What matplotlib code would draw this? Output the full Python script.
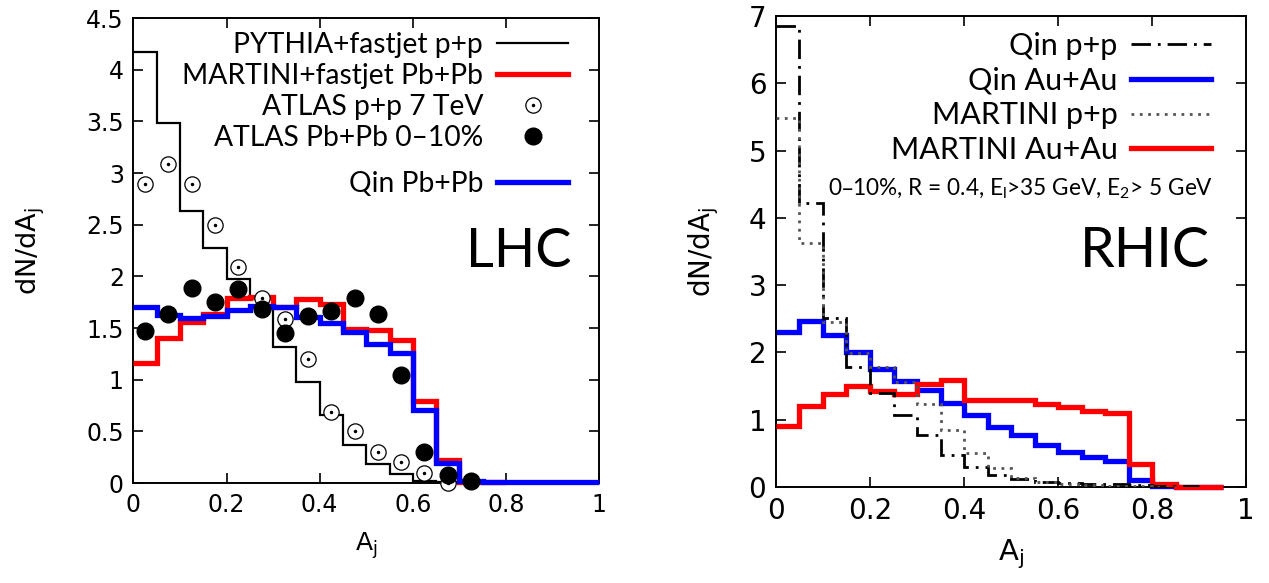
import numpy as np
import matplotlib
matplotlib.use("Agg")
import matplotlib.pyplot as plt
from matplotlib.lines import Line2D
from matplotlib.legend_handler import HandlerTuple

plt.rcParams["mathtext.default"] = "regular"

# ---- LHC panel data (bin width 0.05) ----
lhc_edges = np.arange(0, 1.0001, 0.05)
pythia_pp = [4.17, 3.48, 2.63, 2.27, 1.97, 1.80, 1.32, 0.975, 0.66, 0.37,
             0.18, 0.09, 0.015, 0.005, 0.0, 0.0]
martini_pbpb = [1.16, 1.40, 1.56, 1.64, 1.79, 1.80, 1.70, 1.78, 1.73, 1.49,
                1.48, 1.38, 0.79, 0.22, 0.01, 0.005]
qin_pbpb = [1.70, 1.63, 1.60, 1.62, 1.67, 1.71, 1.70, 1.61, 1.55, 1.46,
            1.35, 1.26, 0.71, 0.19, 0.02, 0.005, 0.005, 0.005, 0.005, 0.005]
atlas_x = [0.025, 0.075, 0.125, 0.175, 0.225, 0.275, 0.325, 0.375, 0.425, 0.475,
           0.525, 0.575, 0.625, 0.675]
atlas_pp = [2.89, 3.09, 2.89, 2.50, 2.09, 1.79, 1.59, 1.20, 0.69, 0.50,
            0.30, 0.20, 0.10, 0.0]
atlas_pbpb_x = [0.025, 0.075, 0.125, 0.175, 0.225, 0.275, 0.325, 0.375, 0.425, 0.475,
                0.525, 0.575, 0.625, 0.675, 0.725]
atlas_pbpb = [1.47, 1.64, 1.89, 1.75, 1.88, 1.68, 1.455, 1.62, 1.66, 1.79,
              1.64, 1.05, 0.30, 0.08, 0.02]

# ---- RHIC panel data ----
rhic_edges = np.arange(0, 0.9501, 0.05)
qin_pp = [6.85, 4.22, 2.51, 1.79, 1.40, 1.07, 0.77, 0.475, 0.29, 0.18,
          0.12, 0.08, 0.06, 0.05, 0.04, 0.03, 0.02, 0.01]
martini_pp = [5.48, 3.62, 2.45, 1.99, 1.79, 1.565, 1.24, 0.85, 0.50, 0.28,
              0.14, 0.08, 0.045, 0.03, 0.02, 0.01, 0.005]
qin_auau = [2.31, 2.46, 2.26, 2.01, 1.76, 1.575, 1.44, 1.25, 1.07, 0.89,
            0.77, 0.63, 0.525, 0.44, 0.39, 0.10, 0.01, 0.0, 0.0]
martini_auau = [0.91, 1.20, 1.38, 1.50, 1.42, 1.38, 1.53, 1.59, 1.30, 1.30,
                1.29, 1.24, 1.19, 1.13, 1.095, 0.34, 0.04, 0.005, 0.005]

lhc_xticks = [0, 0.2, 0.4, 0.6, 0.8, 1]
lhc_xlabels = ["0", "0.2", "0.4", "0.6", "0.8", "1"]
lhc_yticks = [0, 0.5, 1, 1.5, 2, 2.5, 3, 3.5, 4, 4.5]
lhc_ylabels = ["0", "0.5", "1", "1.5", "2", "2.5", "3", "3.5", "4", "4.5"]
rhic_yticks = [0, 1, 2, 3, 4, 5, 6, 7]
rhic_ylabels = ["0", "1", "2", "3", "4", "5", "6", "7"]

legfont = "Lato"
RED = "#ff0000"
BLUE = "#0000ff"
GRAY = "#555555"
DASHDOT = (0, (7, 2.5, 1, 2.5))
DOTS = (0, (1, 2))

fig = plt.figure(figsize=(12.69, 5.83), dpi=100)
ax1 = fig.add_axes([0.1052, 0.1715, 0.3668, 0.7976])
ax2 = fig.add_axes([0.6115, 0.1647, 0.3704, 0.8079])


def style_axis(ax, fs):
    for s in ax.spines.values():
        s.set_linewidth(1.4)
    ax.tick_params(direction="in", top=True, right=True, length=7, width=1.2,
                   labelsize=fs, pad=7)


# left panel
n = len(pythia_pp)
ax1.stairs(pythia_pp, lhc_edges[:n + 1], baseline=None, color="black", lw=1.6, zorder=2)
n = len(martini_pbpb)
ax1.stairs(martini_pbpb, lhc_edges[:n + 1], baseline=None, color=RED, lw=3.8,
           zorder=3, clip_on=False)
ax1.stairs(qin_pbpb, lhc_edges, baseline=None, color=BLUE, lw=3.8, zorder=4, clip_on=False)
ax1.plot(atlas_x, atlas_pp, "o", ms=11, mfc="white", mec="black", mew=0.9,
         zorder=5, clip_on=False)
ax1.plot(atlas_x, atlas_pp, "o", ms=1.5, color="black", zorder=6, clip_on=False)
ax1.plot(atlas_pbpb_x, atlas_pbpb, "o", ms=12, color="black", zorder=6, clip_on=False)

ax1.set_xlim(0, 1)
ax1.set_ylim(0, 4.5)
ax1.set_xticks(lhc_xticks, lhc_xlabels)
ax1.set_yticks(lhc_yticks, lhc_ylabels)
style_axis(ax1, 17)
ax1.set_xlabel("A$_j$", fontsize=18, labelpad=10)
ax1.set_ylabel("dN/dA$_j$", fontsize=19.5, labelpad=28)

h_py = Line2D([], [], color="black", lw=1.6)
h_ma = Line2D([], [], color=RED, lw=3.8)
h_pp = (Line2D([], [], ls="none", marker="o", ms=11, mfc="white", mec="black", mew=0.9),
        Line2D([], [], ls="none", marker="o", ms=1.5, color="black"))
h_pb = Line2D([], [], ls="none", marker="o", ms=12, color="black")
h_qin = Line2D([], [], color=BLUE, lw=3.8)
leg1 = ax1.legend([h_py, h_ma, h_pp, h_pb],
                  ["PYTHIA+fastjet p+p", "MARTINI+fastjet Pb+Pb", "ATLAS p+p 7 TeV",
                   "ATLAS Pb+Pb 0\u201310%"],
                  handler_map={tuple: HandlerTuple(ndivide=1)},
                  loc="upper right", bbox_to_anchor=(0.933, 0.970), markerfirst=False,
                  frameon=False, prop={"family": legfont, "size": 20.3}, handlelength=2.5,
                  handletextpad=0.5, labelspacing=0.18, borderpad=0, borderaxespad=0)
ax1.add_artist(leg1)
ax1.legend([h_qin], ["Qin Pb+Pb"], loc="upper right", bbox_to_anchor=(0.933, 0.672),
           markerfirst=False, frameon=False, prop={"family": legfont, "size": 20.3},
           handlelength=2.5, handletextpad=0.5, borderpad=0, borderaxespad=0)
ax1.text(0.942, 0.497, "LHC", transform=ax1.transAxes, ha="right", va="center",
         fontsize=39, family=legfont)

# right panel
ax2.stairs(qin_auau, rhic_edges, baseline=None, color=BLUE, lw=3.8, zorder=2, clip_on=False)
ax2.stairs(martini_auau, rhic_edges, baseline=None, color=RED, lw=3.8, zorder=3,
           clip_on=False)
n = len(qin_pp)
ax2.stairs(qin_pp, rhic_edges[:n + 1], baseline=None, color="black", lw=2.0,
           linestyle=DASHDOT, zorder=4)
n = len(martini_pp)
ax2.stairs(martini_pp, rhic_edges[:n + 1], baseline=None, color=GRAY, lw=2.0,
           linestyle=DOTS, zorder=5)

ax2.set_xlim(0, 1)
ax2.set_ylim(0, 7)
ax2.set_xticks(lhc_xticks, lhc_xlabels)
ax2.set_yticks(rhic_yticks, rhic_ylabels)
style_axis(ax2, 20)
ax2.set_xlabel("A$_j$", fontsize=21, labelpad=9)
ax2.set_ylabel("dN/dA$_j$", fontsize=20, labelpad=20)

r_qpp = Line2D([], [], color="black", lw=2.0, linestyle=DASHDOT)
r_qaa = Line2D([], [], color=BLUE, lw=3.8)
r_mpp = Line2D([], [], color=GRAY, lw=2.0, linestyle=DOTS)
r_maa = Line2D([], [], color=RED, lw=3.8)
ax2.legend([r_qpp, r_qaa, r_mpp, r_maa],
           ["Qin p+p", "Qin Au+Au", "MARTINI p+p", "MARTINI Au+Au"],
           loc="upper right", bbox_to_anchor=(0.925, 0.966), markerfirst=False,
           frameon=False, prop={"family": legfont, "size": 22}, handlelength=2.6,
           handletextpad=0.45, labelspacing=0.22, borderpad=0, borderaxespad=0)
ax2.text(0.93, 0.633, "0\u201310%, R = 0.4, E$_l$>35 GeV, E$_2$> 5 GeV",
         transform=ax2.transAxes, ha="right", va="center", fontsize=16.3, family=legfont)
ax2.text(0.923, 0.499, "RHIC", transform=ax2.transAxes, ha="right", va="center",
         fontsize=40, family=legfont)

fig.savefig("out.png", dpi=100)
